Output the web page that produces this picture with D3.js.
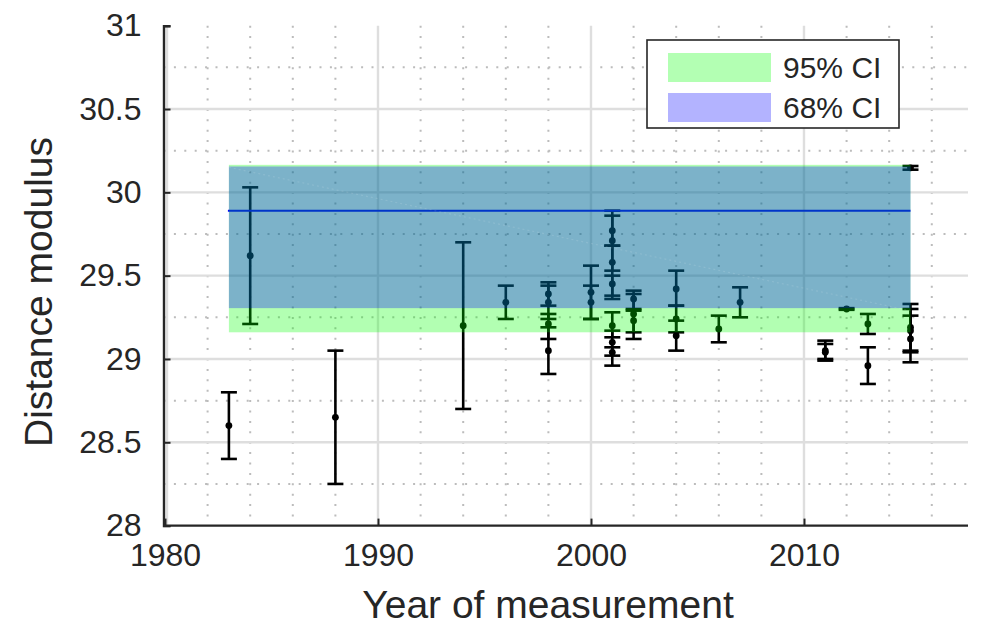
<!DOCTYPE html>
<html>
<head>
<meta charset="utf-8">
<script src="https://cdn.jsdelivr.net/npm/d3@7"></script>
<style>
  body { margin: 0; background: #fff; }
  svg { display: block; }
  text { font-family: "Liberation Sans", Arial, Helvetica, sans-serif; fill: #262626; }
</style>
</head>
<body>
<svg id="chart" width="985" height="625"></svg>
<script>
// Distance-modulus measurements by year, with lower/upper error limits
const years  = [1983, 1984, 1988, 1994, 1996,
                1998, 1998, 1998, 1998,
                2000, 2000,
                2001, 2001, 2001, 2001, 2001, 2001, 2001,
                2002, 2002, 2002,
                2004, 2004, 2004,
                2006, 2007,
                2011, 2011, 2012, 2013, 2013,
                2015, 2015, 2015, 2015];
const values = [28.60, 29.62, 28.65, 29.20, 29.34,
                29.34, 29.39, 29.21, 29.05,
                29.40, 29.34,
                29.77, 29.71, 29.58, 29.45, 29.20, 29.10, 29.04,
                29.36, 29.27, 29.23,
                29.42, 29.24, 29.14,
                29.18, 29.34,
                29.05, 29.04, 29.30, 29.21, 28.96,
                29.19, 29.17, 29.12, 30.147];
const lower  = [28.40, 29.21, 28.25, 28.70, 29.24,
                29.24, 29.32, 29.12, 28.91,
                29.24, 29.24,
                29.68, 29.53, 29.36, 29.38, 29.13, 29.02, 28.96,
                29.29, 29.16, 29.12,
                29.32, 29.16, 29.05,
                29.10, 29.25,
                28.99, 29.00, 29.295, 29.15, 28.85,
                29.05, 29.04, 28.98, 30.136];
const upper  = [28.80, 30.03, 29.05, 29.70, 29.44,
                29.44, 29.46, 29.27, 29.19,
                29.56, 29.44,
                29.89, 29.86, 29.68, 29.50, 29.28, 29.17, 29.07,
                29.41, 29.39, 29.30,
                29.53, 29.32, 29.23,
                29.26, 29.43,
                29.11, 29.09, 29.305, 29.27, 29.07,
                29.33, 29.30, 29.26, 30.158];

// Confidence bands, central estimate and trend
const ci95 = [29.16, 30.165];
const ci68 = [29.305, 30.155];
const centralValue = 29.89;
const trendEnds = [30.15, 29.29];

// Axes ticks and labels
const xTicks = [1980, 1990, 2000, 2010];
const xMinorTicks = [1982, 1984, 1986, 1988, 1992, 1994, 1996, 1998, 2002, 2004, 2006, 2008, 2012, 2014, 2016];
const yTicks = [28, 28.5, 29, 29.5, 30, 30.5, 31];
const yMinorTicks = [28.25, 28.75, 29.25, 29.75, 30.25, 30.75];
const xDomain = [1980, 2017.7];
const yDomain = [28, 31];
const legendLabels = ["95% CI", "68% CI"];
const xTitle = "Year of measurement";
const yTitle = "Distance modulus";

const svg = d3.select("#chart");
const L = 165, R = 968, T = 25.7, B = 525.6;
const axisX = 163.5;

const x = d3.scaleLinear().domain(xDomain).range([L, R]);
const y = d3.scaleLinear().domain(yDomain).range([B, T]);

// Grid
const grid = svg.append("g");
grid.selectAll(".vminor").data(xMinorTicks).join("line")
  .attr("x1", d => x(d)).attr("x2", d => x(d)).attr("y1", T).attr("y2", B)
  .attr("stroke", "#bcbcbc").attr("stroke-width", 2).attr("stroke-dasharray", "2,8.4");
grid.selectAll(".hminor").data(yMinorTicks).join("line")
  .attr("y1", d => y(d)).attr("y2", d => y(d)).attr("x1", axisX).attr("x2", R)
  .attr("stroke", "#bcbcbc").attr("stroke-width", 2).attr("stroke-dasharray", "2,8.4");
grid.selectAll(".vmajor").data(xTicks).join("line")
  .attr("x1", d => d === 1980 ? x(d) + 2 : x(d)).attr("x2", d => d === 1980 ? x(d) + 2 : x(d))
  .attr("y1", T).attr("y2", B)
  .attr("stroke", "#dedede").attr("stroke-width", 2.4);
grid.selectAll(".hmajor").data(yTicks.slice(1, -1)).join("line")
  .attr("y1", d => y(d)).attr("y2", d => y(d)).attr("x1", axisX).attr("x2", R)
  .attr("stroke", "#dedede").attr("stroke-width", 2.4);

// Error bars
const capHalf = 8;
const bars = svg.append("g").attr("stroke", "#000").attr("stroke-width", 2.6);
const idx = d3.range(years.length);
bars.selectAll(".stem").data(idx).join("line")
  .attr("x1", i => x(years[i])).attr("x2", i => x(years[i]))
  .attr("y1", i => y(lower[i])).attr("y2", i => y(upper[i]));
bars.selectAll(".capLo").data(idx).join("line")
  .attr("x1", i => x(years[i]) - capHalf).attr("x2", i => x(years[i]) + capHalf)
  .attr("y1", i => y(lower[i])).attr("y2", i => y(lower[i]));
bars.selectAll(".capHi").data(idx).join("line")
  .attr("x1", i => x(years[i]) - capHalf).attr("x2", i => x(years[i]) + capHalf)
  .attr("y1", i => y(upper[i])).attr("y2", i => y(upper[i]));
svg.append("g").selectAll("circle").data(idx).join("circle")
  .attr("cx", i => x(years[i])).attr("cy", i => y(values[i])).attr("r", 3.4)
  .attr("fill", "#000");

// Central estimate across the measurement span
const x0 = d3.min(years), x1 = d3.max(years);
svg.append("line")
  .attr("x1", x(x0) - 1).attr("x2", x(x1)).attr("y1", y(centralValue)).attr("y2", y(centralValue))
  .attr("stroke", "#0000ff").attr("stroke-width", 2);

// Confidence bands
svg.append("rect")
  .attr("x", x(x0)).attr("width", x(x1) - x(x0))
  .attr("y", y(ci95[1])).attr("height", y(ci95[0]) - y(ci95[1]))
  .attr("fill", "#00ff00").attr("fill-opacity", 0.3);
svg.append("rect")
  .attr("x", x(x0)).attr("width", x(x1) - x(x0))
  .attr("y", y(ci68[1])).attr("height", y(ci68[0]) - y(ci68[1]))
  .attr("fill", "#0000ff").attr("fill-opacity", 0.3);
svg.append("line")
  .attr("x1", x(x0)).attr("x2", x(x1)).attr("y1", y(trendEnds[0])).attr("y2", y(trendEnds[1]))
  .attr("stroke", "#ffffff").attr("stroke-opacity", 0.12).attr("stroke-width", 1.2)
  .attr("stroke-dasharray", "2,3");

// Axes
const axisColor = "#262626";
const xAxis = svg.append("g").attr("transform", `translate(0,${B})`)
  .call(d3.axisBottom(x).tickValues(xTicks).tickFormat(d3.format("d")).tickSize(-7).tickPadding(18));
const yAxis = svg.append("g").attr("transform", `translate(${axisX},0)`)
  .call(d3.axisLeft(y).tickValues(yTicks).tickFormat(d => String(d)).tickSize(-7).tickPadding(22));
xAxis.select(".domain").attr("d", `M${axisX},0H${R}`);
[xAxis, yAxis].forEach(a => {
  a.select(".domain").attr("stroke", axisColor).attr("stroke-width", 2.4);
  a.selectAll(".tick line").attr("stroke", axisColor).attr("stroke-width", 2);
  a.selectAll(".tick text").attr("fill", axisColor).style("font-size", "32px");
});
xAxis.selectAll(".tick text").attr("dy", "0.71em");

svg.append("text").attr("x", 548).attr("y", 618).attr("text-anchor", "middle")
  .style("font-size", "39px").text(xTitle);
svg.append("text").attr("transform", "translate(52,292) rotate(-90)").attr("text-anchor", "middle")
  .style("font-size", "39px").text(yTitle);

// Legend
const lg = svg.append("g");
lg.append("rect").attr("x", 647).attr("y", 40).attr("width", 252).attr("height", 88)
  .attr("fill", "#fff").attr("stroke", axisColor).attr("stroke-width", 1.6);
const legendFills = ["#b3ffb3", "#b3b3ff"];
legendLabels.forEach((lab, i) => {
  lg.append("rect").attr("x", 668).attr("y", 53 + i * 40).attr("width", 103).attr("height", 29)
    .attr("fill", legendFills[i]);
  lg.append("text").attr("x", 783).attr("y", 78 + i * 40).style("font-size", "30px").text(lab);
});
</script>
</body>
</html>
